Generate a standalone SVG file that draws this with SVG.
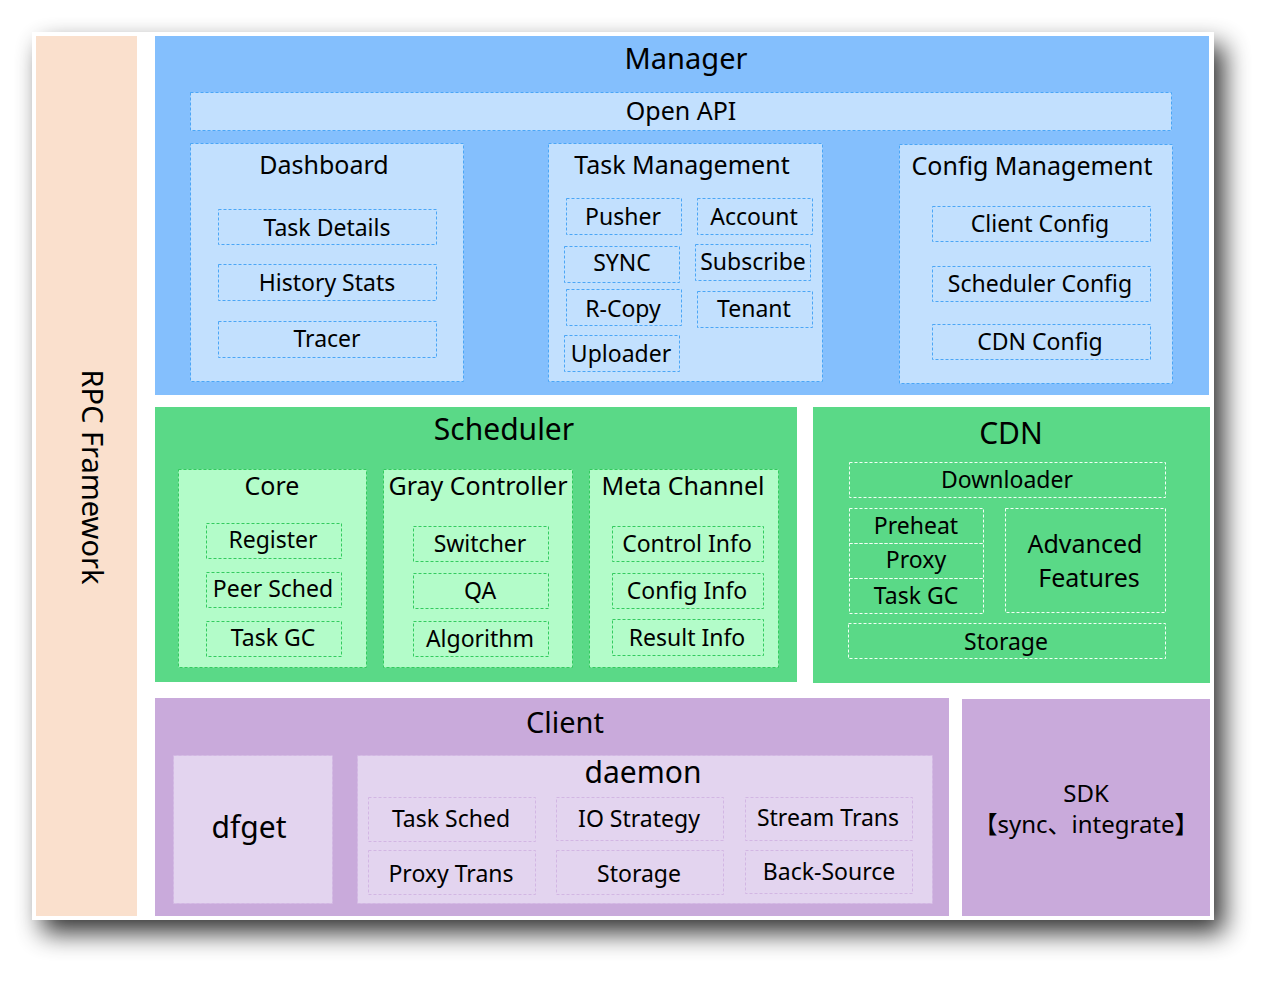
<svg xmlns="http://www.w3.org/2000/svg" width="1276" height="982" viewBox="0 0 1276 982">
<defs>
<filter id="shadow" x="-10%" y="-10%" width="125%" height="125%">
<feGaussianBlur in="SourceAlpha" stdDeviation="13"/>
<feOffset dx="10" dy="13" result="b"/>
<feComponentTransfer><feFuncA type="linear" slope="0.8"/></feComponentTransfer>
<feMerge><feMergeNode/><feMergeNode in="SourceGraphic"/></feMerge>
</filter>
<style>
.t{font-family:"Noto Sans","Noto Sans CJK SC",sans-serif;fill:#000;text-anchor:middle}
.f30{font-size:30px}.f29{font-size:29px}.f25{font-size:25px}.f23{font-size:23px}.f24{font-size:24px}
.mgr{fill:#84BFFD}
.mbox{fill:#C2E0FE;stroke:#4BA6F6;stroke-width:1;stroke-dasharray:3 2}
.sch{fill:#5AD987}
.sbox{fill:#B3FCC9;stroke:#33CB5F;stroke-width:1;stroke-dasharray:3 2}
.cbx{fill:none;stroke:#F2FFF5;stroke-width:1;stroke-dasharray:3 2}
.cli{fill:#C9AADB}
.dbox{fill:#E3D4EF;stroke:#D2B6E3;stroke-width:1;stroke-dasharray:3 2}
</style>
</defs>
<rect x="0" y="0" width="1276" height="982" fill="#fff"/>
<rect x="32" y="32" width="1182" height="888" fill="#fff" filter="url(#shadow)"/>

<g id="rpc">
<rect x="36" y="36" width="101" height="880" fill="#FAE0CD"/>
<text class="t f29" transform="translate(82,477) rotate(90)">RPC Framework</text>
</g>

<g id="manager">
<rect class="mgr" x="155" y="36" width="1054" height="359"/>
<text class="t f29" x="686" y="69">Manager</text>
<g id="open-api">
<rect class="mbox" x="190.5" y="92.5" width="981" height="38"/>
<text class="t f25" x="681" y="120">Open API</text>
</g>
<g id="dashboard">
<rect class="mbox" x="190.5" y="143.5" width="273" height="238"/>
<text class="t f25" x="324" y="174">Dashboard</text>
<rect class="mbox" x="218.5" y="209.5" width="218" height="35"/>
<text class="t f23" x="327" y="236">Task Details</text>
<rect class="mbox" x="218.5" y="264.5" width="218" height="36"/>
<text class="t f23" x="327" y="291">History Stats</text>
<rect class="mbox" x="218.5" y="321.5" width="218" height="36"/>
<text class="t f23" x="327" y="347">Tracer</text>
</g>
<g id="task-management">
<rect class="mbox" x="548.5" y="143.5" width="274" height="238"/>
<text class="t f25" x="682" y="174">Task Management</text>
<rect class="mbox" x="566.5" y="198.5" width="115" height="36"/>
<text class="t f23" x="623" y="225">Pusher</text>
<rect class="mbox" x="697.5" y="198.5" width="115" height="36"/>
<text class="t f23" x="754" y="225">Account</text>
<rect class="mbox" x="564.5" y="246.5" width="115" height="36"/>
<text class="t f23" x="622" y="271">SYNC</text>
<rect class="mbox" x="695.5" y="244.5" width="115" height="36"/>
<text class="t f23" x="753" y="270">Subscribe</text>
<rect class="mbox" x="566.5" y="289.5" width="115" height="36"/>
<text class="t f23" x="623" y="317">R-Copy</text>
<rect class="mbox" x="697.5" y="291.5" width="115" height="36"/>
<text class="t f23" x="754" y="317">Tenant</text>
<rect class="mbox" x="564.5" y="335.5" width="115" height="36"/>
<text class="t f23" x="621" y="362">Uploader</text>
</g>
<g id="config-management">
<rect class="mbox" x="899.5" y="144.5" width="273" height="239"/>
<text class="t f25" x="1032" y="175">Config Management</text>
<rect class="mbox" x="932.5" y="206.5" width="218" height="35"/>
<text class="t f23" x="1040" y="232">Client Config</text>
<rect class="mbox" x="932.5" y="266.5" width="218" height="35"/>
<text class="t f23" x="1040" y="292">Scheduler Config</text>
<rect class="mbox" x="932.5" y="324.5" width="218" height="35"/>
<text class="t f23" x="1040" y="350">CDN Config</text>
</g>
</g>

<g id="scheduler">
<rect class="sch" x="155" y="407" width="642" height="275"/>
<text class="t f30" x="504" y="440">Scheduler</text>
<g id="core">
<rect class="sbox" x="178.5" y="469.5" width="188" height="198"/>
<text class="t f25" x="272" y="495">Core</text>
<rect class="sbox" x="206.5" y="523.5" width="135" height="35"/>
<text class="t f23" x="273" y="548">Register</text>
<rect class="sbox" x="206.5" y="572.5" width="135" height="35"/>
<text class="t f23" x="273" y="597">Peer Sched</text>
<rect class="sbox" x="206.5" y="621.5" width="135" height="35"/>
<text class="t f23" x="273" y="646">Task GC</text>
</g>
<g id="gray-controller">
<rect class="sbox" x="383.5" y="469.5" width="189" height="198"/>
<text class="t f25" x="478" y="495">Gray Controller</text>
<rect class="sbox" x="413.5" y="526.5" width="135" height="35"/>
<text class="t f23" x="480" y="552">Switcher</text>
<rect class="sbox" x="413.5" y="573.5" width="135" height="35"/>
<text class="t f23" x="480" y="599">QA</text>
<rect class="sbox" x="413.5" y="621.5" width="135" height="35"/>
<text class="t f23" x="480" y="647">Algorithm</text>
</g>
<g id="meta-channel">
<rect class="sbox" x="589.5" y="469.5" width="189" height="198"/>
<text class="t f25" x="683" y="495">Meta Channel</text>
<rect class="sbox" x="612.5" y="526.5" width="151" height="35"/>
<text class="t f23" x="687" y="552">Control Info</text>
<rect class="sbox" x="612.5" y="573.5" width="151" height="35"/>
<text class="t f23" x="687" y="599">Config Info</text>
<rect class="sbox" x="612.5" y="619.5" width="151" height="36"/>
<text class="t f23" x="687" y="646">Result Info</text>
</g>
</g>

<g id="cdn">
<rect class="sch" x="813" y="407" width="397" height="276"/>
<text class="t f30" x="1011" y="444">CDN</text>
<rect class="cbx" x="849.5" y="462.5" width="316" height="35"/>
<text class="t f23" x="1007" y="488">Downloader</text>
<rect class="cbx" x="849.5" y="508.5" width="134" height="35"/>
<text class="t f23" x="916" y="534">Preheat</text>
<rect class="cbx" x="849.5" y="543.5" width="134" height="35"/>
<text class="t f23" x="916" y="568">Proxy</text>
<rect class="cbx" x="849.5" y="578.5" width="134" height="35"/>
<text class="t f23" x="916" y="604">Task GC</text>
<rect class="cbx" x="1005.5" y="508.5" width="160" height="104"/>
<text class="t f25" x="1085" y="553">Advanced</text>
<text class="t f25" x="1089" y="587">Features</text>
<rect class="cbx" x="848.5" y="623.5" width="317" height="35"/>
<text class="t f23" x="1006" y="650">Storage</text>
</g>

<g id="client">
<rect class="cli" x="155" y="698" width="794" height="218"/>
<text class="t f29" x="565" y="733">Client</text>
<g id="dfget">
<rect class="dbox" x="173.5" y="755.5" width="159" height="148"/>
<text class="t f30" x="249" y="838">dfget</text>
</g>
<g id="daemon">
<rect class="dbox" x="357.5" y="755.5" width="575" height="148"/>
<text class="t f30" x="643" y="783">daemon</text>
<rect class="dbox" x="368.5" y="797.5" width="167" height="44"/>
<text class="t f23" x="451" y="827">Task Sched</text>
<rect class="dbox" x="368.5" y="850.5" width="167" height="44"/>
<text class="t f23" x="451" y="882">Proxy Trans</text>
<rect class="dbox" x="556.5" y="797.5" width="167" height="43"/>
<text class="t f23" x="639" y="827">IO Strategy</text>
<rect class="dbox" x="556.5" y="850.5" width="167" height="44"/>
<text class="t f23" x="639" y="882">Storage</text>
<rect class="dbox" x="745.5" y="797.5" width="167" height="43"/>
<text class="t f23" x="828" y="826">Stream Trans</text>
<rect class="dbox" x="745.5" y="850.5" width="167" height="43"/>
<text class="t f23" x="829" y="880">Back-Source</text>
</g>
</g>

<g id="sdk">
<rect class="cli" x="962" y="699" width="248" height="217"/>
<text class="t f24" x="1086" y="802"><tspan x="1086" y="802">SDK</tspan><tspan x="1086" y="833">【sync、integrate】</tspan></text>
</g>

<g id="connectors"/>
</svg>
